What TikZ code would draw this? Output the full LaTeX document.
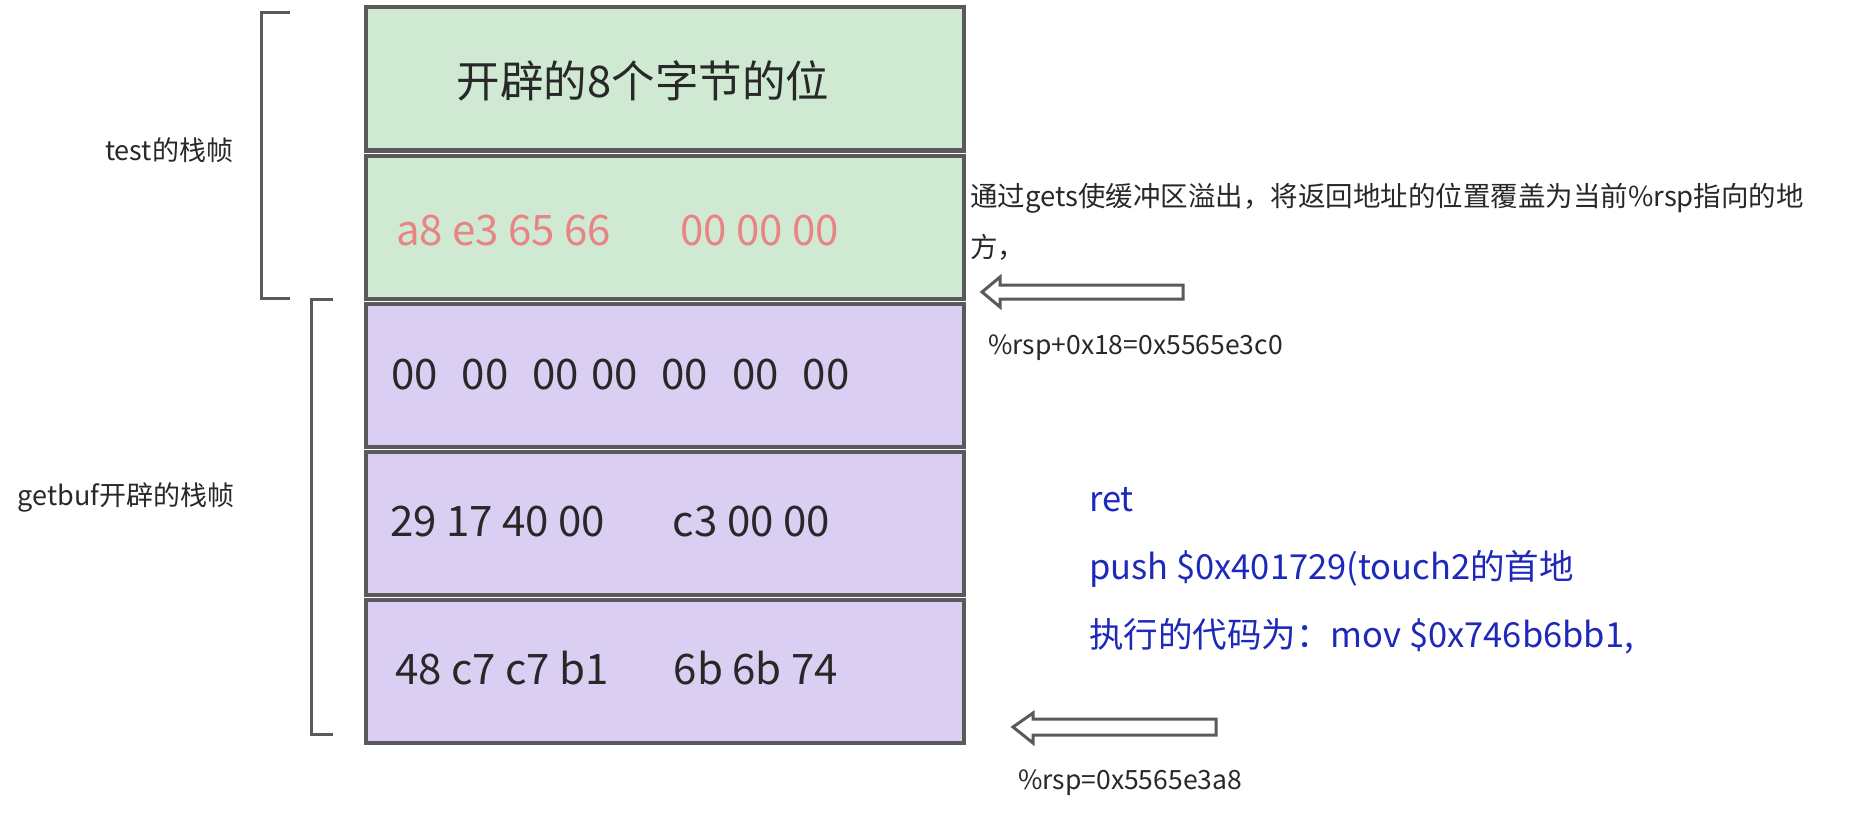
\documentclass[tikz,border=0pt]{standalone}
\usepackage{fontspec}
\setmainfont{Noto Sans CJK SC}
\usepackage{tikz}
\definecolor{framegray}{RGB}{90,90,90}
\definecolor{slotgreen}{RGB}{207,233,210}
\definecolor{slotpurple}{RGB}{218,207,243}
\definecolor{bytesalmon}{RGB}{232,132,132}
\definecolor{codeblue}{RGB}{30,40,185}
\definecolor{inkgray}{RGB}{40,40,40}
\tikzset{
    slot/.style={draw=framegray, line width=4pt, minimum width=598pt, minimum height=143pt, inner sep=0pt},
    bytes/.style={font=\fontsize{42}{50}\selectfont, text=inkgray, inner sep=0pt},
    note/.style={font=\fontsize{27}{51}\selectfont, text=inkgray, inner sep=0pt, align=left},
    bracket/.style={draw=framegray, line width=3pt},
    hollowarrow/.style={draw=framegray, line width=3pt, fill=white, line join=miter}}

\begin{document}
\begin{tikzpicture}[x=1pt, y=-1pt]
                    \useasboundingbox (0,0) rectangle (1852,832);

                    \node[slot, fill=slotgreen] (S1) at (665,79) {};
                    \node[slot, fill=slotgreen] (S2) at (665,227) {};
                    \node[slot, fill=slotpurple] (S3) at (665,375) {};
                    \node[slot, fill=slotpurple] (S4) at (665,523) {};
                    \node[slot, fill=slotpurple] (S5) at (665,671) {};

                    \node[bytes, font=\fontsize{43.5}{50}\selectfont] (B1) at (643,81) {开辟的8个字节的位};
                    \node[bytes, anchor=west, text=bytesalmon] (B2) at (396,231) {a8 e3 65 66\hspace{69pt}00 00 00};
                    \node[bytes, anchor=west] (B3) at (391,375) {00\hspace{24pt}00\hspace{24pt}00\hspace{12pt}00\hspace{24pt}00\hspace{24pt}00\hspace{24pt}00};
                    \node[bytes, anchor=west] (B4) at (390,522) {29 17 40 00\hspace{68pt}c3 00 00};
                    \node[bytes, anchor=west] (B5) at (395,668) {48 c7 c7 b1\hspace{65pt}6b 6b 74};

                    \draw[bracket] (290,13) -- (261,13) -- (261,298) -- (290,298);
                    \draw[bracket] (333,299) -- (311,299) -- (311,734) -- (333,734);
                    \node[note] (T) at (169,150) {test的栈帧};
                    \node[note] (G) at (126,497) {getbuf开辟的栈帧};

                    \node[note, anchor=west, font=\fontsize{27.5}{51}\selectfont] (N) at (970,222) {通过gets使缓冲区溢出，将返回地址的位置覆盖为当前\%rsp指向的地\\方，};
                    \draw[hollowarrow] (1183,285) -- (1000,285) -- (1000,277) -- (982,292) -- (1000,307) -- (1000,299) -- (1183,299) -- cycle;
                    \node[note, anchor=west, font=\fontsize{26.5}{51}\selectfont] (R1) at (988,348) {\%rsp+0x18=0x5565e3c0};

                    \node[note, anchor=north west, font=\fontsize{34.5}{68}\selectfont, text=codeblue] (C) at (1089,487) {ret\\push \$0x401729(touch2的首地\\执行的代码为：mov \$0x746b6bb1,};

                    \draw[hollowarrow] (1216,719) -- (1033,719) -- (1033,713) -- (1013,727) -- (1033,743) -- (1033,735) -- (1216,735) -- cycle;
                    \node[note, anchor=west, font=\fontsize{26.5}{51}\selectfont] (R0) at (1018,783) {\%rsp=0x5565e3a8};

                \end{tikzpicture}
\end{document}
